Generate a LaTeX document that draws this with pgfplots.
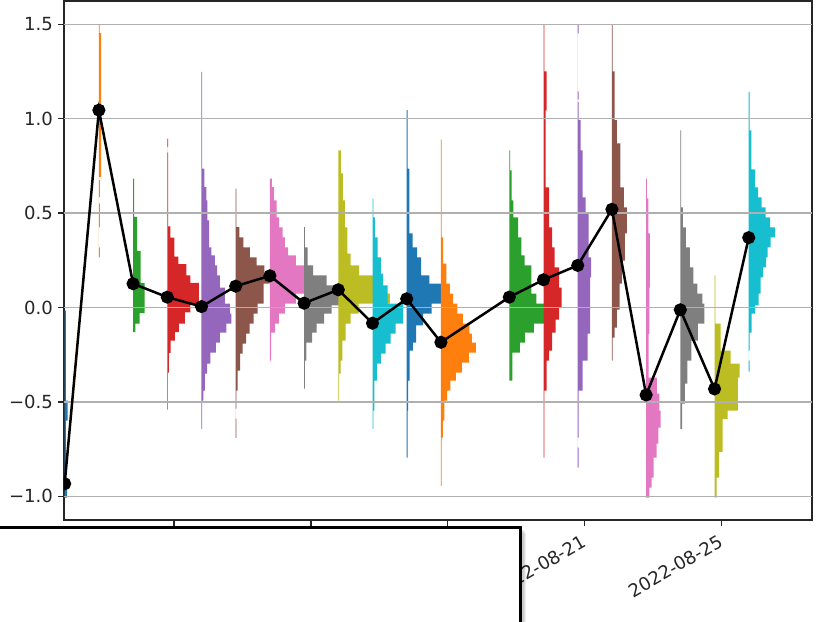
\documentclass[border=0pt]{standalone}
\usepackage{fontspec}
\setmainfont{DejaVu Sans}
\usepackage{pgfplots}
\pgfplotsset{compat=1.18}
\definecolor{tabblue}{HTML}{1F77B4}
\definecolor{taborange}{HTML}{FF7F0E}
\definecolor{tabgreen}{HTML}{2CA02C}
\definecolor{tabred}{HTML}{D62728}
\definecolor{tabpurple}{HTML}{9467BD}
\definecolor{tabbrown}{HTML}{8C564B}
\definecolor{tabpink}{HTML}{E377C2}
\definecolor{tabgray}{HTML}{7F7F7F}
\definecolor{tabolive}{HTML}{BCBD22}
\definecolor{tabcyan}{HTML}{17BECF}
\definecolor{gridgray}{HTML}{B0B0B0}
\definecolor{spine}{HTML}{262626}
\pgfplotsset{hist/.style 2 args={draw=none, fill=#1, const plot mark right, forget plot, x filter/.expression={#2+x/34.2}}}
\begin{document}
\begin{tikzpicture}
\useasboundingbox (-46.08pt,-72.72pt) rectangle (544.32pt,374.4pt);
\begin{axis}[
  anchor=south west, at={(0pt,0pt)},
  width=538.56pt, height=373.68pt, scale only axis,
  xmin=-0.02, xmax=21.85, ymin=-1.125, ymax=1.623,
  axis line style={line width=0.96pt, spine},
  tick align=outside, major tick length=4.2pt,
  tick style={line width=0.96pt, spine},
  tick pos=left,
  ytick={-1,-0.5,0,0.5,1,1.5},
  yticklabels={−1.0,−0.5,0.0,0.5,1.0,1.5},
  xtick={3.2,7.2,11.2,15.2,19.2},
  xticklabels={2022-08-09,2022-08-13,2022-08-17,2022-08-21,2022-08-25},
  ticklabel style={font=\fontsize{13}{15}\selectfont, text=spine},
  xticklabel style={rotate=30, anchor=north east, inner sep=0pt, xshift=-3pt},
  yticklabel style={inner sep=0pt},
  xticklabel shift=4.2pt, yticklabel shift=3.6pt,
  clip marker paths=true,
]
% k=0 blue
\addplot[hist={tabblue}{0}] coordinates {(0,-1.007) (2.5,-1.007) (1.3,-0.901) (3,-0.599) (1.3,-0.493) (0,-0.016)};
% k=1 orange
\addplot[hist={taborange}{1}] coordinates {(0,0.265) (1,0.265) (0,0.318) (1,0.424) (0,0.552) (1,0.584) (0,0.674) (2.2,0.69) (0.8,1.453) (0,1.495)};
% k=2 green
\addplot[hist={tabgreen}{2}] coordinates {(0,-0.13) (2.3,-0.13) (6.5,-0.085) (11.5,-0.03) (7.5,0.13) (4,0.30) (1,0.48) (0,0.682)};
% k=3 red
\addplot[hist={tabred}{3}] coordinates {(0,-0.54) (0.7,-0.54) (1.7,-0.345) (3.3,-0.24) (7.7,-0.175) (11.7,-0.13) (17.7,-0.085) (23,-0.025) (31.5,0.02) (23,0.13) (19,0.17) (11,0.23) (7,0.27) (3,0.37) (0.8,0.43) (0,0.82) (0.8,0.85) (0,0.894)};
% k=4 purple
\addplot[hist={tabpurple}{4}] coordinates {(0,-0.642) (0.7,-0.642) (2,-0.493) (3.3,-0.44) (5.7,-0.35) (9,-0.297) (14.3,-0.239) (18.3,-0.186) (25,-0.133) (30,-0.085) (28.3,-0.032) (23.3,0.021) (18.3,0.106) (15.7,0.17) (13.3,0.223) (10,0.276) (7.7,0.318) (6,0.461) (5,0.567) (3,0.638) (0.7,0.735) (0,1.248)};
% k=5 brown
\addplot[hist={tabbrown}{5}] coordinates {(0,-0.69) (0.7,-0.69) (0,-0.588) (0.7,-0.535) (2,-0.44) (4.5,-0.334) (7,-0.244) (10.5,-0.191) (14,-0.138) (18,-0.085) (22,-0.032) (28,0.021) (34,0.127) (28.7,0.18) (21,0.223) (14.3,0.265) (7.7,0.318) (3.7,0.371) (0.7,0.426) (0,0.629)};
% k=6 pink
\addplot[hist={tabpink}{6}] coordinates {(0,-0.281) (1.2,-0.281) (5,-0.133) (9,-0.085) (15,-0.032) (26,0.021) (34,0.074) (26,0.223) (18.3,0.276) (15,0.318) (12.7,0.371) (9.3,0.424) (6.7,0.477) (4,0.567) (2,0.637) (0,0.682)};
% k=7 gray
\addplot[hist={tabgray}{7}] coordinates {(0,-0.43) (0.8,-0.43) (2.3,-0.281) (8,-0.186) (12.5,-0.133) (20,-0.085) (27.5,-0.032) (36,0.011) (22.5,0.117) (9,0.17) (3.5,0.223) (0.8,0.318) (0,0.426)};
% k=8 olive
\addplot[hist={tabolive}{8}] coordinates {(0,-0.493) (0.8,-0.493) (2.3,-0.35) (4,-0.281) (7.3,-0.175) (12.3,-0.085) (20.3,-0.032) (51.5,0.021) (35,0.074) (20.7,0.17) (12.3,0.223) (9,0.286) (6.5,0.424) (4.5,0.567) (2.5,0.71) (0,0.832)};
% k=9 cyan
\addplot[hist={tabcyan}{9}] coordinates {(0,-0.642) (0.8,-0.642) (1.8,-0.546) (4.3,-0.387) (8.3,-0.297) (13,-0.244) (18,-0.191) (23,-0.138) (30.5,-0.085) (15,0.021) (10.5,0.117) (8.3,0.18) (5,0.265) (2.3,0.371) (0.8,0.477) (0,0.576)};
% k=10 blue
\addplot[hist={tabblue}{10}] coordinates {(0,-0.795) (0.8,-0.795) (1.5,-0.546) (3,-0.387) (6.2,-0.228) (9.5,-0.186) (16.3,-0.095) (25,-0.032) (37,0.021) (22.7,0.127) (14.3,0.17) (10.3,0.265) (6,0.318) (2.7,0.392) (0.8,0.736) (0,1.045)};
% k=11 orange
\addplot[hist={taborange}{11}] coordinates {(0,-0.944) (0.8,-0.944) (2,-0.689) (3.5,-0.599) (6.3,-0.493) (9.5,-0.44) (15,-0.387) (21,-0.345) (28,-0.292) (35,-0.239) (31,-0.186) (28.5,-0.138) (22,-0.085) (16.5,-0.032) (12.3,0.021) (9,0.074) (5.5,0.127) (2.3,0.233) (0.8,0.371) (0,0.889)};
% k=13 green
\addplot[hist={tabgreen}{13}] coordinates {(0,-0.387) (3,-0.387) (10.5,-0.239) (15.5,-0.186) (24.5,-0.133) (36,-0.085) (27,0.021) (22,0.074) (15.3,0.223) (12,0.276) (8.7,0.371) (4,0.477) (2.3,0.567) (0.8,0.726) (0,0.832)};
% k=14 red
\addplot[hist={tabred}{14}] coordinates {(0,-0.795) (0.8,-0.795) (3,-0.44) (5.5,-0.281) (8.5,-0.228) (12,-0.133) (15.5,-0.064) (18,0) (15.5,0.106) (11,0.212) (8.5,0.318) (5.5,0.424) (2,0.636) (3,1.044) (0.8,1.251) (0,1.495)};
% k=15 purple
\addplot[hist={tabpurple}{15}] coordinates {(0,-0.848) (0.8,-0.848) (0,-0.742) (0.8,-0.689) (5,-0.44) (10,-0.281) (12.5,-0.138) (13.3,0.159) (11,0.265) (8,0.498) (5,0.583) (3,0.832) (0.8,0.992) (0,1.087) (0.8,1.102) (0,1.145) (0.8,1.452) (0,1.495)};
% k=16 brown
\addplot[hist={tabbrown}{16}] coordinates {(0,-0.281) (0.8,-0.281) (2.7,-0.159) (5,-0.106) (7.7,-0.011) (10,0.127) (13,0.249) (15,0.392) (12,0.53) (8.5,0.636) (5,0.869) (2.7,0.992) (0.8,1.251) (0,1.495)};
% k=17 pink
\addplot[hist={tabpink}{17}] coordinates {(0,-1.007) (3.3,-1.007) (5.5,-0.954) (7.5,-0.901) (10.5,-0.795) (12.3,-0.721) (14.5,-0.636) (13.3,-0.546) (10.7,-0.456) (2.5,-0.371) (3.3,-0.138) (3.8,0.106) (2.3,0.392) (0.8,0.578) (0,0.682)};
% k=18 gray
\addplot[hist={tabgray}{18}] coordinates {(0,-0.642) (1.7,-0.642) (4.5,-0.509) (7,-0.403) (11,-0.281) (17.5,-0.175) (24,-0.085) (22,0.021) (17,0.074) (13,0.127) (9.5,0.212) (5.5,0.318) (2.5,0.424) (0.8,0.53) (0,0.938)};
% k=19 olive
\addplot[hist={tabolive}{19}] coordinates {(0,-1.007) (2,-1.007) (4.5,-0.901) (8,-0.764) (13,-0.589) (23.3,-0.546) (25,-0.371) (16,-0.297) (6,-0.228) (0.8,-0.085) (0,0.17)};
% k=20 cyan
\addplot[hist={tabcyan}{20}] coordinates {(0,-0.339) (0.8,-0.339) (0,-0.281) (0.8,-0.228) (2.8,-0.133) (6.5,-0.032) (10,0.011) (12,0.074) (14.5,0.159) (17.5,0.212) (19,0.265) (22,0.318) (26.5,0.371) (21.5,0.424) (17,0.477) (12.8,0.53) (9.5,0.583) (6.5,0.636) (2.7,0.731) (0.8,0.938) (0,1.142)};
% grid above bars, below line
\pgfplotsinvokeforeach{-1,-0.5,0,0.5,1,1.5}{\draw[gridgray, line width=0.96pt] (axis cs:-0.02,#1) -- (axis cs:21.85,#1);}
% mean line
\addplot[black, line width=1.8pt, mark=*, mark size=3.8pt, mark options={solid, fill=black}] coordinates {(0,-0.933) (1,1.045) (2,0.126) (3,0.055) (4,0.005) (5,0.113) (6,0.168) (7,0.023) (8,0.094) (9,-0.083) (10,0.046) (11,-0.184) (13,0.055) (14,0.147) (15,0.223) (16,0.520) (17,-0.463) (18,-0.012) (19,-0.431) (20,0.370)};
\end{axis}
% overlay box with shadow
\foreach \i in {1,2,3,4}{\fill[black, opacity=0.07] (-60pt+\i pt,-5.2pt-\i pt) rectangle (328.9pt+\i pt,-95pt);}
\fill[white] (-60pt,-5.2pt) rectangle (328.9pt,-95pt);
\draw[black, line width=2.2pt] (-60pt,-95pt) -- (-60pt,-5.2pt) -- (328.9pt,-5.2pt) -- (328.9pt,-95pt);
\end{tikzpicture}
\end{document}
